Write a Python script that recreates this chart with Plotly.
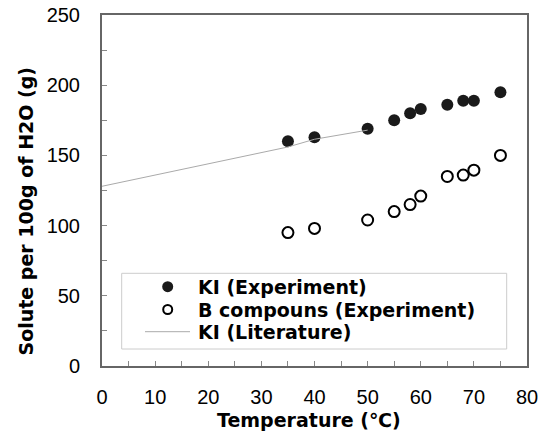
import plotly.graph_objects as go

# Data
temps = [35, 40, 50, 55, 58, 60, 65, 68, 70, 75]
ki_exp = [160, 163, 169, 175, 180, 183, 186, 189, 189, 195]
b_exp = [95, 98, 104, 110, 115, 121, 135, 136, 139.5, 150]
lit_temps = [0, 10, 20, 30, 35, 40, 50]
ki_lit = [128, 136, 144, 152, 156, 161.5, 168]
legend_labels = ["KI (Experiment)", "B compouns (Experiment)", "KI (Literature)"]
x_title = "Temperature (℃)"
y_title = "Solute per 100g of H2O (g)"

TITLE_FONT = dict(family="DejaVu Sans", size=19, color="black", weight="bold")
TICK_FONT = dict(family="Liberation Sans", size=20, color="black")
LEG_FONT = dict(family="DejaVu Sans", size=19, color="black", weight="bold")

# plot area in pixels (for legend / title placement helpers)
L, R, T, B = 102, 527, 15, 366
W, H = 542, 431


def px(x):
    return (x - L) / (R - L)


def py(y):
    return (B - y) / (B - T)


fig = go.Figure()
fig.add_trace(go.Scatter(
    x=temps, y=ki_exp, mode="markers", name=legend_labels[0],
    marker=dict(symbol="circle", size=12, color="#1a1a1a", line=dict(width=0)),
))
fig.add_trace(go.Scatter(
    x=temps, y=b_exp, mode="markers", name=legend_labels[1],
    marker=dict(symbol="circle-open", size=11, color="black", line=dict(width=2)),
))
fig.add_trace(go.Scatter(
    x=lit_temps, y=ki_lit, mode="lines", name=legend_labels[2],
    line=dict(color="#aaaaaa", width=1),
))

axis_common = dict(
    showgrid=False, zeroline=False, showline=True, linecolor="#666666",
    linewidth=2, mirror=True, ticks="inside", ticklen=5, tickwidth=1,
    tickcolor="#888888", tickfont=TICK_FONT, automargin=False,
)

# manual legend (box, symbols, labels)
row_y = [286.7, 309.5, 331.7]
shapes = [dict(
    type="rect", xref="paper", yref="paper",
    x0=px(121.7), x1=px(506.7), y0=py(349), y1=py(273.3),
    line=dict(color="#cccccc", width=1), fillcolor="white", layer="below",
)]
shapes.append(dict(type="circle", xref="paper", yref="paper",
                   x0=px(167.7 - 5.5), x1=px(167.7 + 5.5),
                   y0=py(row_y[0] + 5.5), y1=py(row_y[0] - 5.5),
                   fillcolor="#1a1a1a", line=dict(width=0)))
shapes.append(dict(type="circle", xref="paper", yref="paper",
                   x0=px(167.7 - 4.5), x1=px(167.7 + 4.5),
                   y0=py(row_y[1] + 4.5), y1=py(row_y[1] - 4.5),
                   fillcolor="white", line=dict(color="black", width=2)))
shapes.append(dict(type="line", xref="paper", yref="paper",
                   x0=px(145), x1=px(190), y0=py(row_y[2]), y1=py(row_y[2]),
                   line=dict(color="#aaaaaa", width=1)))
annotations = [dict(
    text=lab, xref="paper", yref="paper", x=px(196), y=py(yy),
    xanchor="left", yanchor="middle", showarrow=False, font=LEG_FONT,
) for lab, yy in zip(legend_labels, row_y)]

# axis titles
annotations.append(dict(
    text=x_title, xref="paper", yref="paper", x=px(308.5), y=py(419.5),
    xanchor="center", yanchor="middle", showarrow=False, font=TITLE_FONT,
    borderpad=0,
))
annotations.append(dict(
    text=y_title, xref="paper", yref="paper", x=px(25), y=py(211.5),
    xanchor="center", yanchor="middle", showarrow=False, font=TITLE_FONT,
    textangle=-90,
))

fig.update_layout(
    width=W, height=H,
    margin=dict(l=L, r=W - R, t=T, b=H - B, autoexpand=False),
    paper_bgcolor="white", plot_bgcolor="white",
    showlegend=False,
    xaxis=dict(
        range=[0, 80], dtick=10, tick0=0,
        minor=dict(dtick=5, ticks="inside", ticklen=5, tickcolor="#888888"),
        ticklabelstandoff=12,
        **axis_common,
    ),
    yaxis=dict(
        range=[0, 250], dtick=50, tick0=0,
        minor=dict(dtick=25, ticks="inside", ticklen=5, tickcolor="#888888"),
        ticklabelstandoff=16,
        **axis_common,
    ),
    shapes=shapes,
    annotations=annotations,
)

fig.write_html("out.html")
